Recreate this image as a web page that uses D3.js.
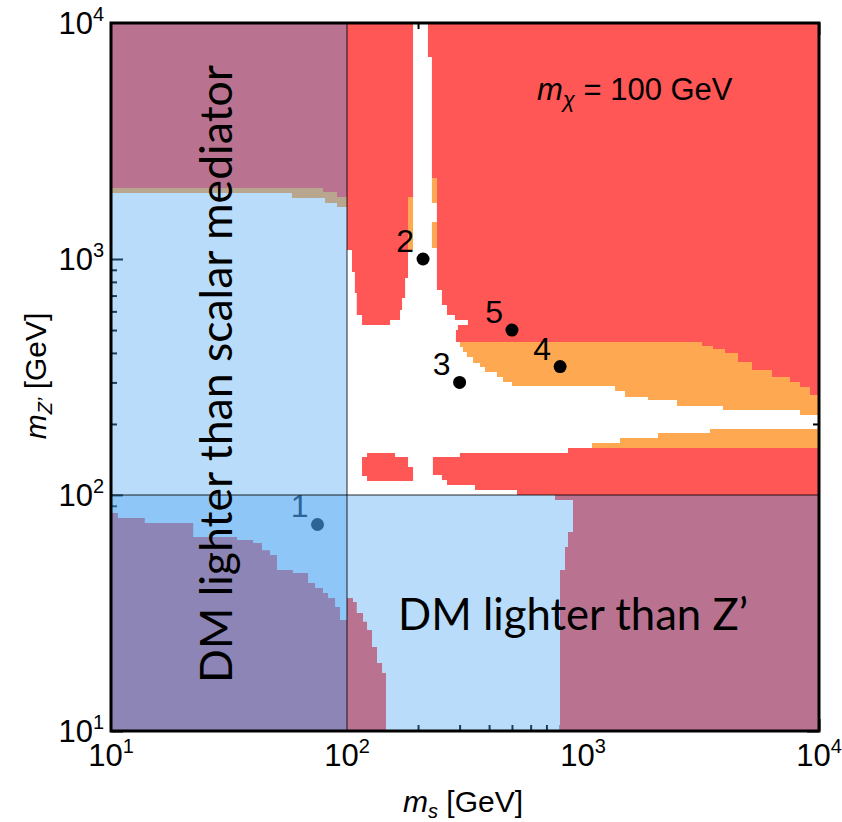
<!DOCTYPE html>
<html>
<head>
<meta charset="utf-8">
<script src="https://cdn.jsdelivr.net/npm/d3@7"></script>
<style>
  body { margin: 0; background: #fff; }
  svg { display: block; }
</style>
</head>
<body>
<svg id="chart" width="842" height="822"></svg>
<script>
// ---- Axis ranges (GeV) ----
const msDomain = [10, 1e4];
const mzDomain = [10, 1e4];
const majorTicks = [10, 100, 1000, 10000];
const tickExponents = ["1", "2", "3", "4"];

// ---- Excluded regions, boundaries as [m_s, m_Z'] in GeV ----
// red: strongly excluded; orange: weaker exclusion
const redUpperLeft = [
  [10, 10000], [190.5, 10000], [190.5, 1831], [181.4, 1831], [181.4, 830.8], [176.3, 830.8],
  [176.3, 683.5], [171.1, 683.5], [171.1, 608.1], [167.7, 608.1], [167.7, 551.5], [152.2, 551.5],
  [152.2, 525], [115.8, 525], [115.8, 579], [110, 579], [110, 717.7], [108, 717.7],
  [108, 880.9], [105, 880.9], [105, 1092], [100, 1092], [100, 1831], [90.7, 1831],
  [90.7, 1923], [79.1, 1923], [79.1, 2000], [10, 2000]
];
const redUpperRight = [
  [220.3, 10000], [10000, 10000], [10000, 265.2], [9158, 265.2], [9158, 286.8], [8307, 286.8],
  [8307, 301.2], [7536, 301.2], [7536, 316.2], [6321, 316.2], [6321, 338.6], [5202, 338.6],
  [5202, 366.1], [4537, 366.1], [4537, 399.6], [3997, 399.6], [3997, 415.6], [3555, 415.6],
  [3555, 428], [3194, 428], [3194, 445], [289.5, 445], [289.5, 500.2], [295.1, 500.2],
  [295.1, 525], [325.3, 525], [325.3, 551.5], [286.7, 551.5], [286.7, 579], [265.3, 579],
  [265.3, 638.3], [252.5, 638.3], [252.5, 739.1], [240.4, 739.1], [240.4, 2204], [229, 2204],
  [229, 7178], [220.3, 7178]
];
const redLowerBand = [
  [231.2, 144.9], [300.9, 144.9], [300.9, 150.7], [863.7, 150.7], [863.7, 158.2], [10000, 158.2],
  [10000, 10], [798.9, 10], [798.9, 48.1], [838.8, 48.1], [838.8, 60.2], [863.7, 60.2],
  [863.7, 69.7], [906.9, 69.7], [906.9, 95.2], [760.9, 95.2], [760.9, 100], [525.3, 100],
  [525.3, 105], [348.7, 105], [348.7, 110.3], [265.3, 110.3], [265.3, 115.8], [252.5, 115.8],
  [252.5, 121.6], [231.2, 121.6]
];
const redIsland = [
  [121.6, 150.7], [159.8, 150.7], [159.8, 144.9], [181.4, 144.9], [181.4, 131.4], [190.5, 131.4],
  [190.5, 114.6], [121.6, 114.6], [121.6, 120.4], [115.8, 120.4], [115.8, 144.9], [121.6, 144.9]
];
const redLowerLeft = [
  [10, 83.9], [10.7, 83.9], [10.7, 79.9], [13.9, 79.9], [13.9, 76.1], [22.3, 76.1],
  [22.3, 66.3], [34.2, 66.3], [34.2, 64.4], [40, 64.4], [40, 62.6], [43.6, 62.6],
  [43.6, 58.4], [47.2, 58.4], [47.2, 55.7], [50.5, 55.7], [50.5, 48.1], [59, 48.1],
  [59, 46.7], [68.4, 46.7], [68.4, 42.4], [73.2, 42.4], [73.2, 40.4], [79.1, 40.4],
  [79.1, 38.4], [83.1, 38.4], [83.1, 36.6], [89, 36.6], [89, 33.5], [93.4, 33.5],
  [93.4, 29.5], [100, 29.5], [100, 36.6], [106, 36.6], [106, 35.2], [110, 35.2],
  [110, 31.6], [116.9, 31.6], [116.9, 29], [121.6, 29], [121.6, 26.8], [127.6, 26.8],
  [127.6, 22.7], [134, 22.7], [134, 19.4], [140.8, 19.4], [140.8, 17.6], [146.3, 17.6],
  [146.3, 10], [10, 10]
];
const orangeLeftBand = [
  [10, 2058], [100, 2058], [100, 1661], [90.7, 1661], [90.7, 1727], [80.7, 1727],
  [80.7, 1813], [58.4, 1813], [58.4, 1905], [10, 1905]
];
const orangeColumnEdge = [[176.3, 1961], [190.5, 1961], [190.5, 1092], [176.3, 1092]];
const orangeGapUpper = [[229, 2204], [240.4, 2204], [240.4, 1727], [229, 1727]];
const orangeGapLower = [[229, 1435], [240.4, 1435], [240.4, 1113], [229, 1113]];
const orangeMiddleBand = [
  [289.5, 476], [10000, 476], [10000, 218.3], [8307, 218.3], [8307, 229.1], [3920, 229.1],
  [3920, 238.3], [2502, 238.3], [2502, 252.6], [1886, 252.6], [1886, 260.1], [1507, 260.1],
  [1507, 275.8], [1367, 275.8], [1367, 289.6], [500.3, 289.6], [500.3, 301.2], [458.2, 301.2],
  [458.2, 316.2], [432, 316.2], [432, 332], [384.4, 332], [384.4, 348.5], [366.1, 348.5],
  [366.1, 362.5], [342, 362.5], [342, 384.3], [322.2, 384.3], [322.2, 403.5], [310.1, 403.5],
  [310.1, 423.8], [300.9, 423.8], [300.9, 445], [289.5, 445]
];
const orangeLowerBand = [
  [1092, 155.1], [1092, 166.1], [1435, 166.1], [1435, 174.4], [2079, 174.4], [2079, 183.1],
  [3453, 183.1], [3453, 190.4], [10000, 190.4], [10000, 155.1]
];

// ---- Benchmark points ----
const pointLabels = ["1", "2", "3", "4", "5"];
const pointMs = [75, 210, 300, 800, 500];
const pointMz = [75, 1000, 300, 350, 500];

// ---- Dark matter mass: below it the mediators are heavier than the DM ----
const mChi = 100;

const svg = d3.select("#chart");
const plot = { left: 111, right: 819, top: 23, bottom: 731 };

const x = d3.scaleLog().domain(msDomain).range([plot.left, plot.right]);
const y = d3.scaleLog().domain(mzDomain).range([plot.bottom, plot.top]);

const RED = "#ff5656";
const ORANGE = "#ffa852";
const OVERLAY = "rgb(71,163,242)";
const SANS = "'Liberation Sans', Arial, Helvetica, sans-serif";
const HUMANIST = "Lato, 'Open Sans', sans-serif";

const area = d3.line().x(d => x(d[0])).y(d => y(d[1]));

svg.append("defs").append("clipPath").attr("id", "plotClip")
  .append("rect")
  .attr("x", plot.left).attr("y", plot.top)
  .attr("width", plot.right - plot.left).attr("height", plot.bottom - plot.top);

// ---- Tick marks (inward on all four sides) ----
const minorTicks = [];
[10, 100, 1000].forEach(dec => { for (let k = 2; k <= 9; k++) minorTicks.push(dec * k); });

function tickAxis(gen, vals, size, transform) {
  const g = svg.append("g").attr("transform", transform)
    .call(gen.tickValues(vals).tickSize(-size).tickFormat(""));
  g.select(".domain").remove();
  g.selectAll(".tick line").attr("stroke", "#000").attr("stroke-width", 2);
  return g;
}
[[majorTicks, 12], [minorTicks, 6]].forEach(([vals, len]) => {
  tickAxis(d3.axisBottom(x), vals, len, `translate(0,${plot.bottom})`);
  tickAxis(d3.axisTop(x), vals, len, `translate(0,${plot.top})`);
  tickAxis(d3.axisLeft(y), vals, len, `translate(${plot.left},0)`);
  tickAxis(d3.axisRight(y), vals, len, `translate(${plot.right},0)`);
});

// ---- Exclusion regions ----
const regions = svg.append("g").attr("clip-path", "url(#plotClip)");
[orangeLeftBand, orangeColumnEdge, orangeGapUpper, orangeGapLower, orangeMiddleBand, orangeLowerBand]
  .forEach(poly => regions.append("path").attr("d", area(poly) + "Z").attr("fill", ORANGE));
[redUpperLeft, redUpperRight, redLowerBand, redIsland, redLowerLeft]
  .forEach(poly => regions.append("path").attr("d", area(poly) + "Z").attr("fill", RED));

// ---- Benchmark point 1 sits inside both shaded regions, so it goes underneath ----
function drawPoint(i) {
  const g = svg.append("g");
  g.append("circle").attr("cx", x(pointMs[i])).attr("cy", y(pointMz[i])).attr("r", 6.5).attr("fill", "#000");
  g.append("text").attr("x", x(pointMs[i]) - 9).attr("y", y(pointMz[i]) - 7)
    .attr("text-anchor", "end").attr("font-family", SANS).attr("font-size", 32)
    .attr("fill", "#000").text(pointLabels[i]);
}
drawPoint(0);

// ---- Translucent shading where DM is lighter than a mediator ----
const shade = svg.append("g");
shade.append("rect")
  .attr("x", x(msDomain[0])).attr("y", y(mzDomain[1]))
  .attr("width", x(mChi) - x(msDomain[0])).attr("height", y(mzDomain[0]) - y(mzDomain[1]))
  .attr("fill", OVERLAY).attr("fill-opacity", 0.38);
shade.append("rect")
  .attr("x", x(msDomain[0])).attr("y", y(mChi))
  .attr("width", x(msDomain[1]) - x(msDomain[0])).attr("height", y(mzDomain[0]) - y(mChi))
  .attr("fill", OVERLAY).attr("fill-opacity", 0.38);
shade.append("line")
  .attr("x1", x(mChi)).attr("x2", x(mChi)).attr("y1", y(mzDomain[1])).attr("y2", y(mzDomain[0]))
  .attr("stroke", "#000").attr("stroke-opacity", 0.42).attr("stroke-width", 2);
shade.append("line")
  .attr("x1", x(msDomain[0])).attr("x2", x(msDomain[1])).attr("y1", y(mChi)).attr("y2", y(mChi))
  .attr("stroke", "#000").attr("stroke-opacity", 0.42).attr("stroke-width", 2);

// ---- Remaining benchmark points ----
for (let i = 1; i < pointLabels.length; i++) drawPoint(i);

// ---- Frame ----
svg.append("rect")
  .attr("x", plot.left).attr("y", plot.top)
  .attr("width", plot.right - plot.left).attr("height", plot.bottom - plot.top)
  .attr("fill", "none").attr("stroke", "#000").attr("stroke-width", 3);

// ---- Tick labels ----
function powerLabel(sel, exp) {
  sel.append("tspan").text("10");
  sel.append("tspan").attr("font-size", 20).attr("dy", -13).text(exp);
}
majorTicks.forEach((v, i) => {
  svg.append("text").attr("x", x(v)).attr("y", 766)
    .attr("text-anchor", "middle").attr("font-family", SANS).attr("font-size", 31)
    .call(powerLabel, tickExponents[i]);
  svg.append("text").attr("x", 104).attr("y", y(v) + 11)
    .attr("text-anchor", "end").attr("font-family", SANS).attr("font-size", 31)
    .call(powerLabel, tickExponents[i]);
});

// ---- Axis titles ----
const xTitle = svg.append("text").attr("x", 463).attr("y", 812)
  .attr("text-anchor", "middle").attr("font-family", SANS).attr("font-size", 30);
xTitle.append("tspan").attr("font-style", "italic").text("m");
xTitle.append("tspan").attr("font-style", "italic").attr("font-size", 20).attr("dy", 6).text("s");
xTitle.append("tspan").attr("dy", -6).text(" [GeV]");

const yTitle = svg.append("text").attr("transform", "translate(46,376) rotate(-90)")
  .attr("text-anchor", "middle").attr("font-family", SANS).attr("font-size", 30);
yTitle.append("tspan").attr("font-style", "italic").text("m");
yTitle.append("tspan").attr("font-style", "italic").attr("font-size", 20).attr("dy", 6).text("Z’");
yTitle.append("tspan").attr("dy", -6).text(" [GeV]");

// ---- Annotations ----
const massNote = svg.append("text").attr("x", 537).attr("y", 100)
  .attr("font-family", SANS).attr("font-size", 31);
massNote.append("tspan").attr("font-style", "italic").text("m");
massNote.append("tspan").attr("font-style", "italic").attr("font-size", 22).attr("dy", 7).text("χ");
massNote.append("tspan").attr("dy", -7).text(" = 100 GeV");

svg.append("text").attr("x", 398).attr("y", 630)
  .attr("font-family", HUMANIST).attr("font-size", 44)
  .attr("textLength", 350).attr("lengthAdjust", "spacingAndGlyphs")
  .text("DM lighter than Z’");

svg.append("text").attr("transform", "translate(232,683) rotate(-90)")
  .attr("font-family", HUMANIST).attr("font-size", 44)
  .attr("textLength", 618).attr("lengthAdjust", "spacingAndGlyphs")
  .text("DM lighter than scalar mediator");
</script>
</body>
</html>
